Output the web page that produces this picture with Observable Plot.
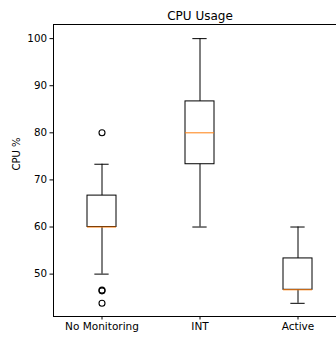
<!DOCTYPE html>
<html>
<head>
<meta charset="utf-8">
<script src="https://cdn.jsdelivr.net/npm/d3@7"></script>
<script src="https://cdn.jsdelivr.net/npm/@observablehq/plot@0.6"></script>
<style>
  html, body { margin: 0; padding: 0; background: #fff; }
</style>
</head>
<body>
<div id="chart"></div>
<script>
const categories = ["No Monitoring", "INT", "Active"];
const q1 = [60, 73.33, 46.67];
const median = [60, 80, 46.67];
const q3 = [66.67, 86.67, 53.33];
const whiskerLow = [50, 60, 43.8];
const whiskerHigh = [73.33, 100, 60];
const outlierCategory = ["No Monitoring", "No Monitoring", "No Monitoring", "No Monitoring"];
const outlierValue = [80, 46.6, 46.45, 43.8];
const yTicks = [50, 60, 70, 80, 90, 100];

const boxes = categories.map((c, i) => ({
  cat: c, q1: q1[i], med: median[i], q3: q3[i], lo: whiskerLow[i], hi: whiskerHigh[i]
}));
const outliers = outlierValue.map((v, i) => ({cat: outlierCategory[i], v}));

const chart = Plot.plot({
  width: 336,
  height: 340,
  marginLeft: 53,
  marginRight: 0,
  marginTop: 24,
  marginBottom: 24,
  style: {fontFamily: "DejaVu Sans", fontSize: "10px", color: "#000", background: "#fff"},
  x: {
    type: "band",
    domain: categories,
    range: [53, 347],
    paddingInner: 0.7,
    paddingOuter: 0.35
  },
  y: {domain: [41, 103]},
  marks: [
    Plot.ruleY([103, 41], {stroke: "#000", strokeWidth: 1}),
    Plot.frame({anchor: "left", stroke: "#000", strokeWidth: 1}),
    Plot.axisY({ticks: yTicks, tickSize: 3.5, tickPadding: 3, label: null, stroke: "#000", fontSize: 10.3}),
    Plot.axisX({tickSize: 3.5, tickPadding: 3, label: null, stroke: "#000", fontSize: 10.5}),
    Plot.ruleX(boxes, {x: "cat", y1: "lo", y2: "hi", stroke: "#000", strokeWidth: 1}),
    Plot.tickY(boxes, {x: "cat", y: "lo", stroke: "#000", strokeWidth: 1, insetLeft: 7.35, insetRight: 7.35}),
    Plot.tickY(boxes, {x: "cat", y: "hi", stroke: "#000", strokeWidth: 1, insetLeft: 7.35, insetRight: 7.35}),
    Plot.barY(boxes, {x: "cat", y1: "q1", y2: "q3", fill: "#fff", stroke: "#000", strokeWidth: 1}),
    Plot.tickY(boxes, {x: "cat", y: "med", stroke: "#ff7f0e", strokeWidth: 1}),
    Plot.dot(outliers, {x: "cat", y: "v", r: 3, stroke: "#000", fill: "none", strokeWidth: 1.1}),
    Plot.text(["CPU Usage"], {x: () => "INT", frameAnchor: "top", dy: -13, fontSize: 12, fill: "#000"}),
    Plot.text(["CPU %"], {frameAnchor: "left", dx: -37, rotate: -90, fontSize: 10, fill: "#000"})
  ]
});
document.getElementById("chart").appendChild(chart);
</script>
</body>
</html>
